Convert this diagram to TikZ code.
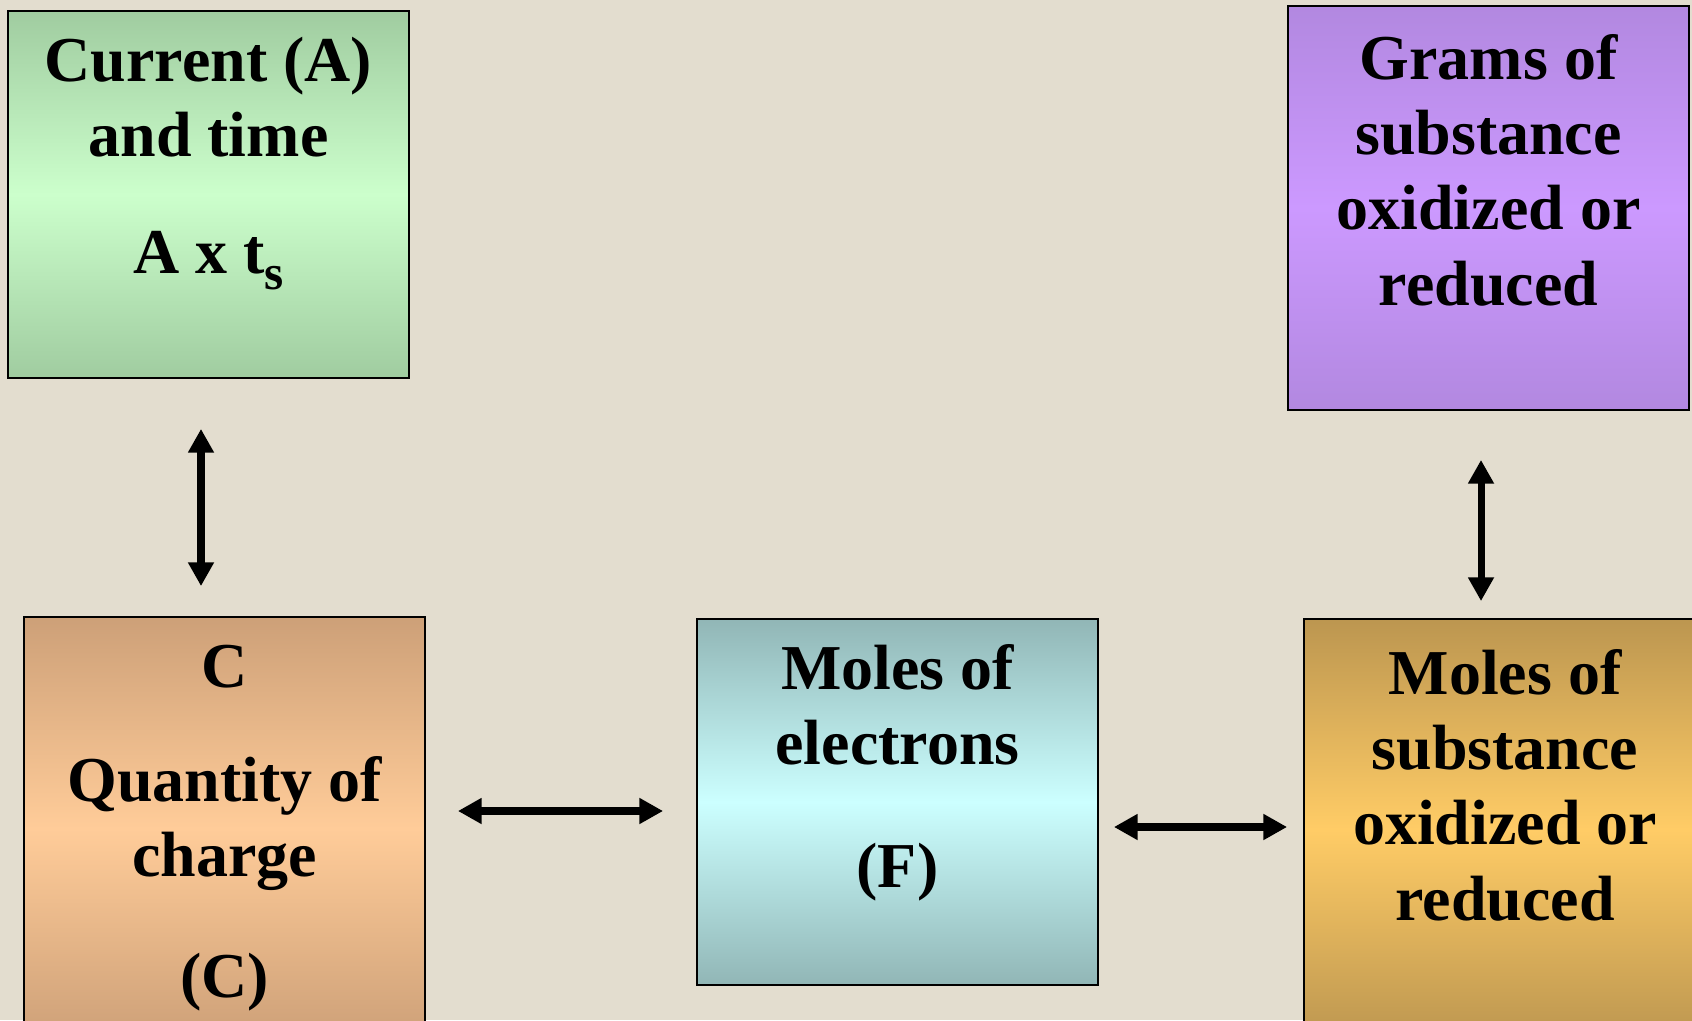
\documentclass[tikz,border=0pt]{standalone}
\usepackage{fontspec}
\setmainfont{Liberation Serif}
\usetikzlibrary{arrows.meta}
\definecolor{bg}{RGB}{227,221,207}
\definecolor{gEdge}{RGB}{160,204,160}
\definecolor{gMid}{RGB}{204,255,204}
\definecolor{pEdge}{RGB}{178,136,224}
\definecolor{pMid}{RGB}{204,153,255}
\definecolor{oEdge}{RGB}{205,160,120}
\definecolor{oMid}{RGB}{255,204,153}
\definecolor{tEdge}{RGB}{145,182,182}
\definecolor{tMid}{RGB}{204,255,255}
\definecolor{yEdge}{RGB}{188,150,80}
\definecolor{yMid}{RGB}{255,204,102}
\begin{document}
\begin{tikzpicture}[x=0.02cm,y=-0.02cm,
  box/.style={draw=black, line width=1.1pt, rectangle, inner sep=0pt, minimum width=8.02cm},
  lbl/.style={anchor=base, align=center, inner sep=0pt, font=\bfseries\fontsize{36.4pt}{42.7pt}\selectfont},
  dbl/.style={line width=4pt, {Triangle[length=13.5pt,width=14pt]}-{Triangle[length=13.5pt,width=14pt]}}]
\useasboundingbox (0,0) rectangle (1692,1020);
\clip (0,0) rectangle (1692,1020);
\fill[bg] (0,0) rectangle (1692,1020);

% boxes
\node[box, minimum height=7.34cm, top color=gEdge, bottom color=gEdge, middle color=gMid] (g) at (208.5,194.5) {};
\node[box, minimum height=8.08cm, top color=pEdge, bottom color=pEdge, middle color=pMid] (p) at (1488.5,208) {};
\node[box, minimum height=8.46cm, top color=oEdge, bottom color=oEdge, middle color=oMid] (o) at (224.5,828.5) {};
\node[box, minimum height=7.32cm, top color=tEdge, bottom color=tEdge, middle color=tMid] (t) at (897.5,802) {};
\node[box, minimum width=8.04cm, minimum height=8.42cm, top color=yEdge, bottom color=yEdge, middle color=yMid] (y) at (1505,829.5) {};

% texts (anchored at the baseline of the last line)
\node[lbl] (gt) at (208.5,274) {Current (A)\\and time\\[0.84cm]A x t\raisebox{-9pt}{\fontsize{28pt}{28pt}\selectfont s}};
\node[lbl] (pt) at (1488.5,305) {Grams of\\substance\\oxidized or\\reduced};
\node[lbl] (ot) at (224.5,997) {C\\[0.78cm]Quantity of\\charge\\[0.9cm](C)};
\node[lbl] (tt) at (897.5,887) {Moles of\\electrons\\[0.94cm](F)};
\node[lbl] (yt) at (1505,920) {Moles of\\substance\\oxidized or\\reduced};

% connectors
\draw[dbl, shorten <=1cm, shorten >=0.6cm] (g.south -| 201,0) -- (o.north -| 201,0);
\draw[dbl, shorten <=0.98cm, shorten >=0.34cm] (p.south -| 1481,0) -- (y.north -| 1481,0);
\draw[dbl, shorten <=0.64cm, shorten >=0.66cm] (o.east |- 0,811) -- (t.west |- 0,811);
\draw[dbl, shorten <=0.3cm, shorten >=0.32cm] (t.east |- 0,827) -- (y.west |- 0,827);
\end{tikzpicture}
\end{document}
